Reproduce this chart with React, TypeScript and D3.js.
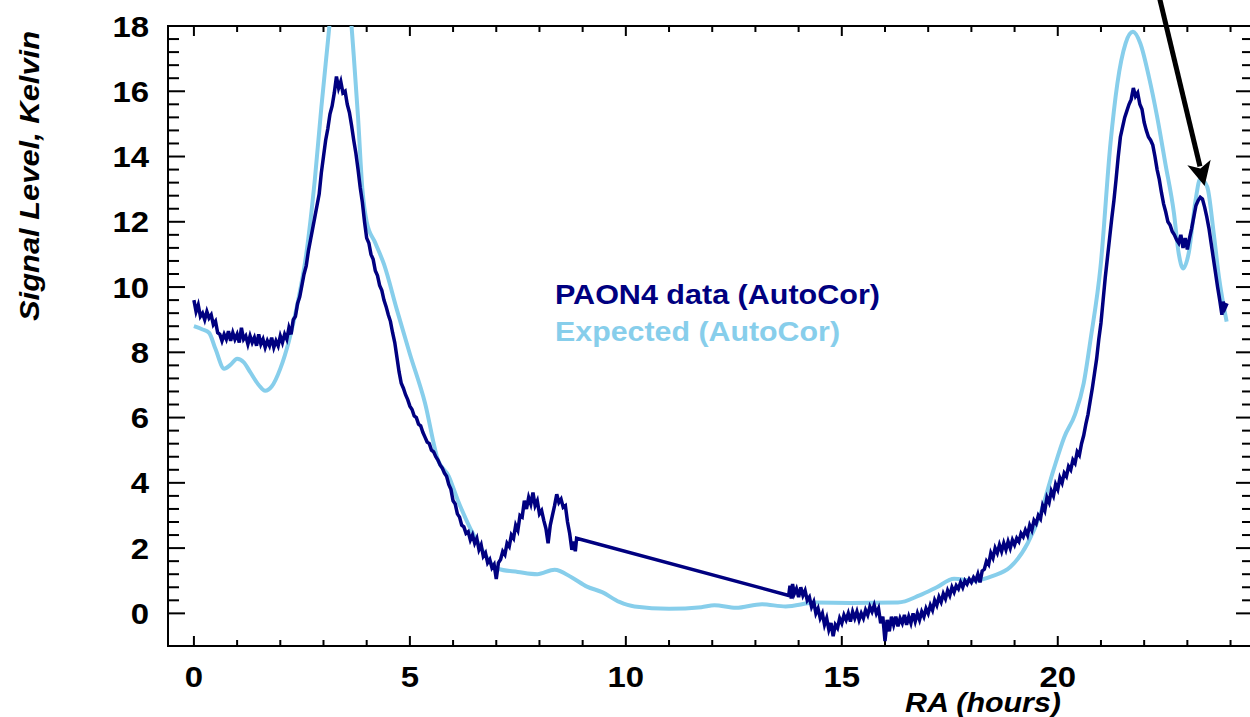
import React from 'react';
import * as d3 from 'd3';

// PAON4 measured auto-correlation signal [RA hours, Kelvin]
const paonData: [number, number][] = [
  [0.0, 9.6], [0.05, 9.25], [0.1, 9.45], [0.15, 9.1], [0.2, 9.2], [0.25, 9.0], [0.3, 9.25], [0.35, 9.05],
  [0.4, 9.15], [0.45, 8.85], [0.5, 8.95], [0.55, 8.6], [0.6, 8.55], [0.65, 8.35], [0.7, 8.55], [0.75, 8.4],
  [0.8, 8.65], [0.85, 8.35], [0.9, 8.6], [0.95, 8.4], [1.0, 8.55], [1.05, 8.3], [1.1, 8.75], [1.15, 8.4],
  [1.2, 8.5], [1.25, 8.25], [1.3, 8.5], [1.35, 8.3], [1.4, 8.45], [1.45, 8.2], [1.5, 8.55], [1.55, 8.25],
  [1.6, 8.4], [1.65, 8.15], [1.7, 8.35], [1.75, 8.2], [1.8, 8.45], [1.85, 8.15], [1.9, 8.35], [1.95, 8.2],
  [2.0, 8.5], [2.05, 8.3], [2.1, 8.55], [2.15, 8.4], [2.2, 8.75], [2.25, 8.55], [2.3, 9.0], [2.35, 9.1],
  [2.4, 9.5], [2.45, 9.7], [2.5, 10.05], [2.55, 10.4], [2.6, 10.65], [2.65, 11.1], [2.7, 11.45], [2.75, 11.8],
  [2.8, 12.15], [2.85, 12.5], [2.9, 12.85], [2.95, 13.5], [3.0, 14.0], [3.05, 14.5], [3.1, 14.85], [3.15, 15.3],
  [3.2, 15.55], [3.25, 15.95], [3.3, 16.45], [3.35, 16.1], [3.4, 16.3], [3.45, 15.95], [3.5, 16.0], [3.55, 15.6],
  [3.6, 15.35], [3.65, 14.95], [3.7, 14.5], [3.75, 14.1], [3.8, 13.6], [3.85, 13.05], [3.9, 12.6], [3.95, 12.0],
  [4.0, 11.5], [4.05, 11.35], [4.1, 11.0], [4.15, 10.85], [4.2, 10.5], [4.25, 10.35], [4.3, 10.05], [4.35, 9.9],
  [4.4, 9.6], [4.45, 9.4], [4.5, 9.15], [4.55, 8.95], [4.6, 8.6], [4.65, 8.3], [4.7, 7.85], [4.75, 7.4],
  [4.8, 7.05], [4.85, 6.9], [4.9, 6.7], [4.95, 6.55], [5.0, 6.35], [5.05, 6.25], [5.1, 6.05], [5.15, 6.0],
  [5.2, 5.8], [5.25, 5.75], [5.3, 5.55], [5.35, 5.4], [5.4, 5.25], [5.45, 5.2], [5.5, 5.0], [5.55, 4.95],
  [5.6, 4.8], [5.65, 4.7], [5.7, 4.55], [5.75, 4.45], [5.8, 4.3], [5.85, 4.2], [5.9, 3.95], [5.95, 3.8],
  [6.0, 3.45], [6.05, 3.35], [6.1, 3.05], [6.15, 2.95], [6.2, 2.7], [6.25, 2.65], [6.3, 2.45], [6.35, 2.5],
  [6.4, 2.25], [6.45, 2.4], [6.5, 2.15], [6.55, 2.3], [6.6, 1.95], [6.65, 2.1], [6.7, 1.75], [6.75, 1.85],
  [6.8, 1.55], [6.85, 1.65], [6.9, 1.4], [6.95, 1.5], [7.0, 1.05], [7.05, 1.55], [7.1, 1.65], [7.15, 1.9],
  [7.2, 1.8], [7.25, 2.15], [7.3, 2.05], [7.35, 2.4], [7.4, 2.3], [7.45, 2.7], [7.5, 2.55], [7.55, 3.0],
  [7.6, 2.95], [7.65, 3.45], [7.7, 3.2], [7.75, 3.55], [7.8, 3.35], [7.85, 3.7], [7.9, 3.3], [7.95, 3.45],
  [8.0, 3.05], [8.05, 3.15], [8.1, 2.85], [8.15, 2.6], [8.2, 2.15], [8.25, 2.7], [8.3, 3.0], [8.35, 3.3],
  [8.4, 3.65], [8.45, 3.4], [8.5, 3.5], [8.55, 3.25], [8.6, 3.3], [8.65, 2.8], [8.7, 2.45], [8.75, 1.95],
  [8.8, 2.2], [8.83, 1.9], [8.86, 2.3],
  [13.77, 0.55], [13.8, 0.85], [13.83, 0.45], [13.86, 0.9], [13.9, 0.6], [13.95, 0.75], [14.0, 0.5], [14.05, 0.8],
  [14.1, 0.55], [14.15, 0.7], [14.2, 0.4], [14.25, 0.5], [14.3, 0.2], [14.35, 0.35], [14.4, 0.0], [14.45, 0.15],
  [14.5, -0.15], [14.55, 0.0], [14.6, -0.35], [14.65, -0.15], [14.7, -0.5], [14.75, -0.3], [14.8, -0.7], [14.85, -0.35],
  [14.9, -0.45], [14.95, -0.15], [15.0, -0.3], [15.05, -0.05], [15.1, -0.2], [15.15, 0.0], [15.2, -0.25], [15.25, 0.05],
  [15.3, -0.15], [15.35, 0.05], [15.4, -0.2], [15.45, 0.0], [15.5, -0.15], [15.55, 0.1], [15.6, -0.05], [15.65, 0.2],
  [15.7, 0.05], [15.75, 0.25], [15.8, 0.0], [15.85, 0.15], [15.9, -0.3], [15.95, -0.1], [16.0, -0.85], [16.05, -0.2],
  [16.1, -0.55], [16.15, -0.1], [16.2, -0.35], [16.25, -0.1], [16.3, -0.4], [16.35, -0.15], [16.4, -0.3], [16.45, -0.05],
  [16.5, -0.35], [16.55, -0.1], [16.6, -0.3], [16.65, 0.0], [16.7, -0.25], [16.75, 0.0], [16.8, -0.2], [16.85, 0.05],
  [16.9, -0.1], [16.95, 0.15], [17.0, 0.0], [17.05, 0.25], [17.1, 0.1], [17.15, 0.4], [17.2, 0.25], [17.25, 0.5],
  [17.3, 0.35], [17.35, 0.6], [17.4, 0.45], [17.45, 0.7], [17.5, 0.55], [17.55, 0.8], [17.6, 0.65], [17.65, 0.85],
  [17.7, 0.75], [17.75, 0.95], [17.8, 0.8], [17.85, 1.0], [17.9, 0.9], [17.95, 1.05], [18.0, 0.95], [18.05, 1.1],
  [18.1, 1.0], [18.15, 1.2], [18.2, 0.95], [18.25, 1.3], [18.3, 1.35], [18.35, 1.6], [18.4, 1.5], [18.45, 1.85],
  [18.5, 1.7], [18.55, 2.0], [18.6, 1.85], [18.65, 2.1], [18.7, 1.9], [18.75, 2.15], [18.8, 1.95], [18.85, 2.2],
  [18.9, 2.0], [18.95, 2.25], [19.0, 2.1], [19.05, 2.3], [19.1, 2.2], [19.15, 2.45], [19.2, 2.35], [19.25, 2.55],
  [19.3, 2.4], [19.35, 2.7], [19.4, 2.55], [19.45, 2.85], [19.5, 2.75], [19.55, 3.0], [19.6, 2.9], [19.65, 3.3],
  [19.7, 3.15], [19.75, 3.55], [19.8, 3.4], [19.85, 3.75], [19.9, 3.6], [19.95, 3.95], [20.0, 3.8], [20.05, 4.15],
  [20.1, 4.0], [20.15, 4.3], [20.2, 4.2], [20.25, 4.5], [20.3, 4.4], [20.35, 4.7], [20.4, 4.6], [20.45, 4.95],
  [20.5, 4.85], [20.55, 5.2], [20.6, 5.45], [20.65, 5.8], [20.7, 6.1], [20.75, 6.5], [20.8, 6.9], [20.85, 7.35],
  [20.9, 7.8], [20.95, 8.4], [21.0, 8.9], [21.05, 9.6], [21.1, 10.3], [21.15, 10.9], [21.2, 11.5], [21.25, 12.1],
  [21.3, 12.65], [21.35, 13.3], [21.4, 14.0], [21.45, 14.6], [21.5, 14.9], [21.55, 15.2], [21.6, 15.4], [21.65, 15.6],
  [21.7, 15.75], [21.75, 16.1], [21.8, 15.85], [21.85, 15.95], [21.9, 15.6], [21.95, 15.45], [22.0, 15.05], [22.05, 14.8],
  [22.1, 14.6], [22.15, 14.5], [22.2, 14.35], [22.25, 14.0], [22.3, 13.6], [22.35, 13.3], [22.4, 12.9], [22.45, 12.55],
  [22.5, 12.3], [22.55, 12.0], [22.6, 11.9], [22.65, 11.7], [22.7, 11.6], [22.75, 11.45], [22.8, 11.35], [22.85, 11.6],
  [22.9, 11.2], [22.95, 11.5], [23.0, 11.15], [23.05, 11.5], [23.1, 11.8], [23.15, 12.15], [23.2, 12.5], [23.25, 12.65],
  [23.3, 12.75], [23.35, 12.7], [23.4, 12.45], [23.45, 12.15], [23.5, 11.8], [23.55, 11.35], [23.6, 10.9], [23.65, 10.45],
  [23.7, 10.0], [23.75, 9.6], [23.8, 9.15], [23.83, 9.55], [23.87, 9.35], [23.92, 9.5],
];

// Expected auto-correlation signal [RA hours, Kelvin]
const expectedData: [number, number][] = [
  [0.0, 8.8], [0.2, 8.7], [0.35, 8.6], [0.5, 8.1], [0.7, 7.5], [0.85, 7.62], [1.0, 7.8], [1.15, 7.7],
  [1.3, 7.4], [1.5, 7.0], [1.65, 6.82], [1.8, 6.95], [2.0, 7.5], [2.2, 8.35], [2.4, 9.5], [2.6, 11.0],
  [2.8, 13.3], [2.95, 15.5], [3.1, 17.5], [3.25, 19.5], [3.4, 20.5], [3.55, 19.5], [3.7, 17.1], [3.8, 15.2],
  [3.9, 13.0], [4.0, 12.0], [4.2, 11.35], [4.4, 10.7], [4.7, 9.3], [5.0, 7.95], [5.35, 6.45], [5.65, 4.7],
  [5.9, 4.2], [6.1, 3.5], [6.4, 2.6], [6.65, 2.0], [6.9, 1.5], [7.05, 1.36], [7.5, 1.27], [7.95, 1.2],
  [8.35, 1.34], [8.75, 1.1], [9.1, 0.82], [9.45, 0.65], [9.85, 0.35], [10.2, 0.21], [11.0, 0.14], [11.75, 0.19],
  [12.05, 0.25], [12.55, 0.17], [13.15, 0.28], [13.7, 0.21], [14.4, 0.33], [15.2, 0.32], [16.3, 0.33], [16.8, 0.55],
  [17.2, 0.8], [17.6, 1.06], [18.05, 1.0], [18.5, 1.15], [18.9, 1.42], [19.3, 2.14], [19.6, 3.06], [19.9, 4.39],
  [20.15, 5.4], [20.4, 6.1], [20.6, 7.05], [20.76, 8.4], [20.99, 10.62], [21.22, 14.4], [21.38, 16.24], [21.57, 17.47],
  [21.74, 17.82], [21.91, 17.47], [22.11, 16.44], [22.3, 15.22], [22.49, 13.79], [22.69, 12.26], [22.8, 11.03], [22.9, 10.57],
  [23.03, 11.03], [23.19, 12.66], [23.3, 13.33], [23.46, 13.07], [23.61, 11.65], [23.73, 10.32], [23.91, 8.94],
];

const xMajorTicks = [0, 5, 10, 15, 20];
const yMajorTicks = [0, 2, 4, 6, 8, 10, 12, 14, 16, 18];
const legendLabels = ['PAON4 data (AutoCor)', 'Expected (AutoCor)'];
const axisTitles = { x: 'RA (hours)', y: 'Signal Level, Kelvin' };
// annotation arrow, in data coordinates
const arrowFrom: [number, number] = [22.33, 19.0];
const arrowTo: [number, number] = [23.4, 13.1];

const DARK = '#000080';
const LIGHT = '#87CEEB';
const FONT = '"Liberation Sans", Arial, Helvetica, sans-serif';

export default function App() {
  const left = 168, right = 1253, top = 26, bottom = 646;
  const x = d3.scaleLinear().domain([-0.6, 24.52]).range([left, right]);
  const y = d3.scaleLinear().domain([-1, 18]).range([bottom, top]);

  const xMinor = d3.range(0, 25, 1).filter((v) => v % 5 !== 0 && x(v) < right);
  const yMinor = d3.range(0, 18.001, 0.4).filter((v) => Math.abs(v / 2 - Math.round(v / 2)) > 1e-6);

  const line = d3.line<[number, number]>().x((d) => x(d[0])).y((d) => y(d[1]));
  const smooth = d3
    .line<[number, number]>()
    .x((d) => x(d[0]))
    .y((d) => y(d[1]))
    .curve(d3.curveMonotoneX);

  // arrow geometry
  const ax0 = x(arrowFrom[0]), ay0 = y(arrowFrom[1]);
  const ax1 = x(arrowTo[0]), ay1 = y(arrowTo[1]);
  const ang = Math.atan2(ay1 - ay0, ax1 - ax0);
  const headLen = 24, headHalf = 12;
  const bx = ax1 - headLen * Math.cos(ang), by = ay1 - headLen * Math.sin(ang);
  const head = [
    [ax1, ay1],
    [bx + headHalf * Math.sin(ang), by - headHalf * Math.cos(ang)],
    [ax1 - (headLen * 0.75) * Math.cos(ang), ay1 - (headLen * 0.75) * Math.sin(ang)],
    [bx - headHalf * Math.sin(ang), by + headHalf * Math.cos(ang)],
  ];

  const xMajLen = 10, xMinLen = 6, yMajLen = 17, yMinLen = 11;

  return (
    <svg
      width={1250}
      height={717}
      style={{ position: 'absolute', left: 0, top: 0, background: '#fff' }}
      fontFamily={FONT}
    >
      <defs>
        <clipPath id="plotClip">
          <rect x={left} y={top} width={right - left} height={bottom - top} />
        </clipPath>
      </defs>
      <rect x={0} y={0} width={1250} height={717} fill="#fff" />

      {/* frame */}
      <rect x={left} y={top} width={right - left} height={bottom - top} fill="none" stroke="#000" strokeWidth={2} />

      {/* x ticks bottom and top */}
      {xMajorTicks.map((v) => (
        <g key={'xM' + v}>
          <line x1={x(v)} x2={x(v)} y1={bottom} y2={bottom - xMajLen} stroke="#000" strokeWidth={2} />
          <line x1={x(v)} x2={x(v)} y1={top} y2={top + xMajLen} stroke="#000" strokeWidth={2} />
          <text
            x={x(v)}
            y={687}
            textAnchor="middle"
            fontSize={30}
            fontWeight="bold"
            textLength={String(v).length * 18.3}
            lengthAdjust="spacingAndGlyphs"
          >
            {v}
          </text>
        </g>
      ))}
      {xMinor.map((v) => (
        <g key={'xm' + v}>
          <line x1={x(v)} x2={x(v)} y1={bottom} y2={bottom - xMinLen} stroke="#000" strokeWidth={2} />
          <line x1={x(v)} x2={x(v)} y1={top} y2={top + xMinLen} stroke="#000" strokeWidth={2} />
        </g>
      ))}

      {/* y ticks left and right */}
      {yMajorTicks.map((v) => (
        <g key={'yM' + v}>
          <line x1={left} x2={left + yMajLen} y1={y(v)} y2={y(v)} stroke="#000" strokeWidth={2} />
          <line x1={right} x2={right - yMajLen} y1={y(v)} y2={y(v)} stroke="#000" strokeWidth={2} />
          <text
            x={149}
            y={y(v) + 10.5}
            textAnchor="end"
            fontSize={30}
            fontWeight="bold"
            textLength={String(v).length * 18.3}
            lengthAdjust="spacingAndGlyphs"
          >
            {v}
          </text>
        </g>
      ))}
      {yMinor.map((v) => (
        <g key={'ym' + v.toFixed(1)}>
          <line x1={left} x2={left + yMinLen} y1={y(v)} y2={y(v)} stroke="#000" strokeWidth={2} />
          <line x1={right} x2={right - yMinLen} y1={y(v)} y2={y(v)} stroke="#000" strokeWidth={2} />
        </g>
      ))}

      {/* data */}
      <g clipPath="url(#plotClip)">
        <path d={smooth(expectedData) || ''} fill="none" stroke={LIGHT} strokeWidth={4} strokeLinejoin="round" />
        <path d={line(paonData) || ''} fill="none" stroke={DARK} strokeWidth={3.5} strokeLinejoin="miter" />
      </g>

      {/* legend */}
      <text x={555} y={304} fontSize={28} fontWeight="bold" fill={DARK} textLength={325} lengthAdjust="spacingAndGlyphs">
        {legendLabels[0]}
      </text>
      <text x={555} y={341} fontSize={28} fontWeight="bold" fill={LIGHT} textLength={285} lengthAdjust="spacingAndGlyphs">
        {legendLabels[1]}
      </text>

      {/* axis titles */}
      <text
        x={905}
        y={712}
        fontSize={27}
        fontWeight="bold"
        fontStyle="italic"
        textLength={156}
        lengthAdjust="spacingAndGlyphs"
      >
        {axisTitles.x}
      </text>
      <text
        transform={`translate(39, 321) rotate(-90)`}
        fontSize={27}
        fontWeight="bold"
        fontStyle="italic"
        textLength={290}
        lengthAdjust="spacingAndGlyphs"
      >
        {axisTitles.y}
      </text>

      {/* arrow annotation */}
      <line x1={ax0} y1={ay0} x2={bx + 4 * Math.cos(ang)} y2={by + 4 * Math.sin(ang)} stroke="#000" strokeWidth={5} />
      <polygon points={head.map((p) => p.join(',')).join(' ')} fill="#000" />
    </svg>
  );
}
